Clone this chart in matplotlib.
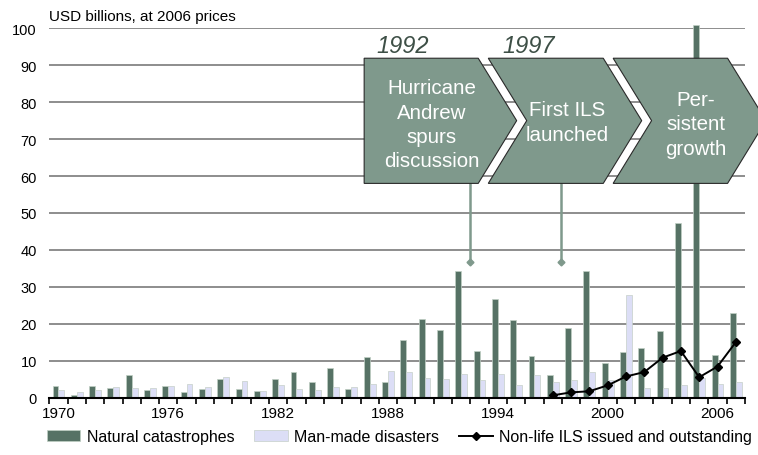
import numpy as np
import matplotlib
matplotlib.use("Agg")
import matplotlib.pyplot as plt
from matplotlib.patches import Polygon, Patch
from matplotlib.lines import Line2D
from matplotlib import font_manager

years = list(range(1970, 2008))
natural = [3.1, 0.6, 3.1, 2.5, 6.0, 2.1, 3.1, 1.4, 2.3, 5.0,
           2.3, 1.7, 5.0, 7.0, 4.2, 8.0, 2.3, 11.0, 4.2, 15.5,
           21.4, 18.2, 34.3, 12.6, 26.8, 21.0, 11.2, 6.2, 18.9, 34.2,
           9.3, 12.4, 13.5, 18.0, 47.4, 101.0, 11.6, 23.0]
manmade = [2.0, 1.4, 2.0, 2.8, 2.5, 2.5, 3.0, 3.8, 2.8, 5.6,
           4.4, 1.7, 3.3, 2.4, 2.0, 2.9, 2.9, 3.7, 7.1, 7.0,
           5.4, 5.1, 6.5, 4.7, 6.3, 3.5, 6.0, 4.1, 4.8, 7.0,
           4.8, 27.8, 2.5, 2.7, 3.3, 5.4, 3.8, 4.1]
ils = [np.nan] * 27 + [0.6, 1.4, 1.7, 3.3, 5.7, 6.9, 10.8, 12.6, 5.5, 8.4, 15.0]
tick_years = [1970, 1976, 1982, 1988, 1994, 2000, 2006]
yticks = list(range(0, 101, 10))

series_names = ["Natural catastrophes", "Man-made disasters", "Non-life ILS issued and outstanding"]
phases = ["Hurricane\nAndrew\nspurs\ndiscussion", "First ILS\nlaunched", "Per-\nsistent\ngrowth"]
phase_years = ["1992", "1997"]

available = {f.name for f in font_manager.fontManager.ttflist}
base = "Liberation Sans" if "Liberation Sans" in available else "DejaVu Sans"
plt.rcParams['font.family'] = [base, 'DejaVu Sans']

DARK = "#567265"
LIGHT = "#dcdef6"
CHEV = "#7f998c"

fig = plt.figure(figsize=(7.58, 4.56), dpi=100)
ax = fig.add_axes([0.065, 0.126, 0.9178, 0.8097])

x = np.arange(len(years))
w = 0.32
ax.bar(x - w / 2, natural, width=w, color=DARK, edgecolor="#c0cfc5", linewidth=0.5, zorder=3, clip_on=False)
ax.bar(x + w / 2, manmade, width=w, color=LIGHT, edgecolor="#c5cfc8", linewidth=0.5, zorder=3, clip_on=False)
ax.plot(x, ils, color="black", lw=1.4, marker="D", ms=4.5, zorder=4)

ax.set_xlim(-0.5, len(years) - 0.5)
ax.set_ylim(0, 100)
for v in yticks[1:]:
    ax.axhline(v, color="#858585", lw=1.3, zorder=1)

ax.set_yticks(yticks)
ax.tick_params(axis="y", length=0, pad=9, labelsize=10.5)
ax.set_xticks([years.index(t) for t in tick_years])
ax.set_xticklabels([str(t) for t in tick_years], fontsize=11)
ax.set_xticks(np.arange(-0.5, len(years)), minor=True)
ax.tick_params(axis="x", which="major", length=0, pad=6)
ax.tick_params(axis="x", which="minor", length=4.5, width=1.2, direction="out", color="black")
for s in ["left", "right", "top"]:
    ax.spines[s].set_visible(False)
ax.spines["bottom"].set_linewidth(1.5)
ax.spines["bottom"].set_zorder(5)

ax.text(-0.5, 101.5, "USD billions, at 2006 prices", fontsize=11, ha="left", va="bottom")

# chevrons (data coords: x in category units, y in value units)
top, bot, mid = 91.9, 58.0, 75.0
depth = 2.1
chev_specs = [(16.7, 22.93, False), (23.48, 29.76, True), (30.30, 36.55, True)]
for (l, r, notch) in chev_specs:
    pts = [(l, top), (r, top), (r + depth, mid), (r, bot), (l, bot)]
    if notch:
        pts.append((l + depth, mid))
    poly = Polygon(pts, closed=True, facecolor=CHEV, edgecolor="#2a2a2a", lw=0.8, zorder=6, clip_on=False)
    ax.add_patch(poly)

text_pos = [(20.4, 74.0), (27.8, 74.6), (34.8, 74.1)]
for (tx, ty), label in zip(text_pos, phases):
    ax.text(tx, ty, label, color="white", fontsize=14.8, ha="center", va="center",
            linespacing=1.36, zorder=7)

for (tx, label) in zip([18.78, 25.7], phase_years):
    ax.text(tx, 92.1, label, fontsize=17, style="italic", color="#3d4f46", ha="center", va="bottom", zorder=7)

for ax_x in [22.48, 27.45]:
    ax.plot([ax_x, ax_x], [bot, 36.6], color=CHEV, lw=1.8, zorder=5)
    ax.plot([ax_x], [36.6], marker="D", ms=3.5, color=CHEV, zorder=5)

handles = [Patch(facecolor=DARK, edgecolor="#c0cfc5", lw=0.5),
           Patch(facecolor=LIGHT, edgecolor="#c5cfc8", lw=0.5),
           Line2D([0], [0], color="black", lw=1.4, marker="D", ms=4.5)]
leg = fig.legend(handles, series_names, loc="lower center", bbox_to_anchor=(0.527, -0.008), ncol=3,
                 frameon=False, handlelength=2.1, handleheight=0.65, handletextpad=0.4, columnspacing=1.25,
                 prop={"family": [base, "DejaVu Sans"], "size": 11.5})

fig.savefig("out.png", dpi=100)
